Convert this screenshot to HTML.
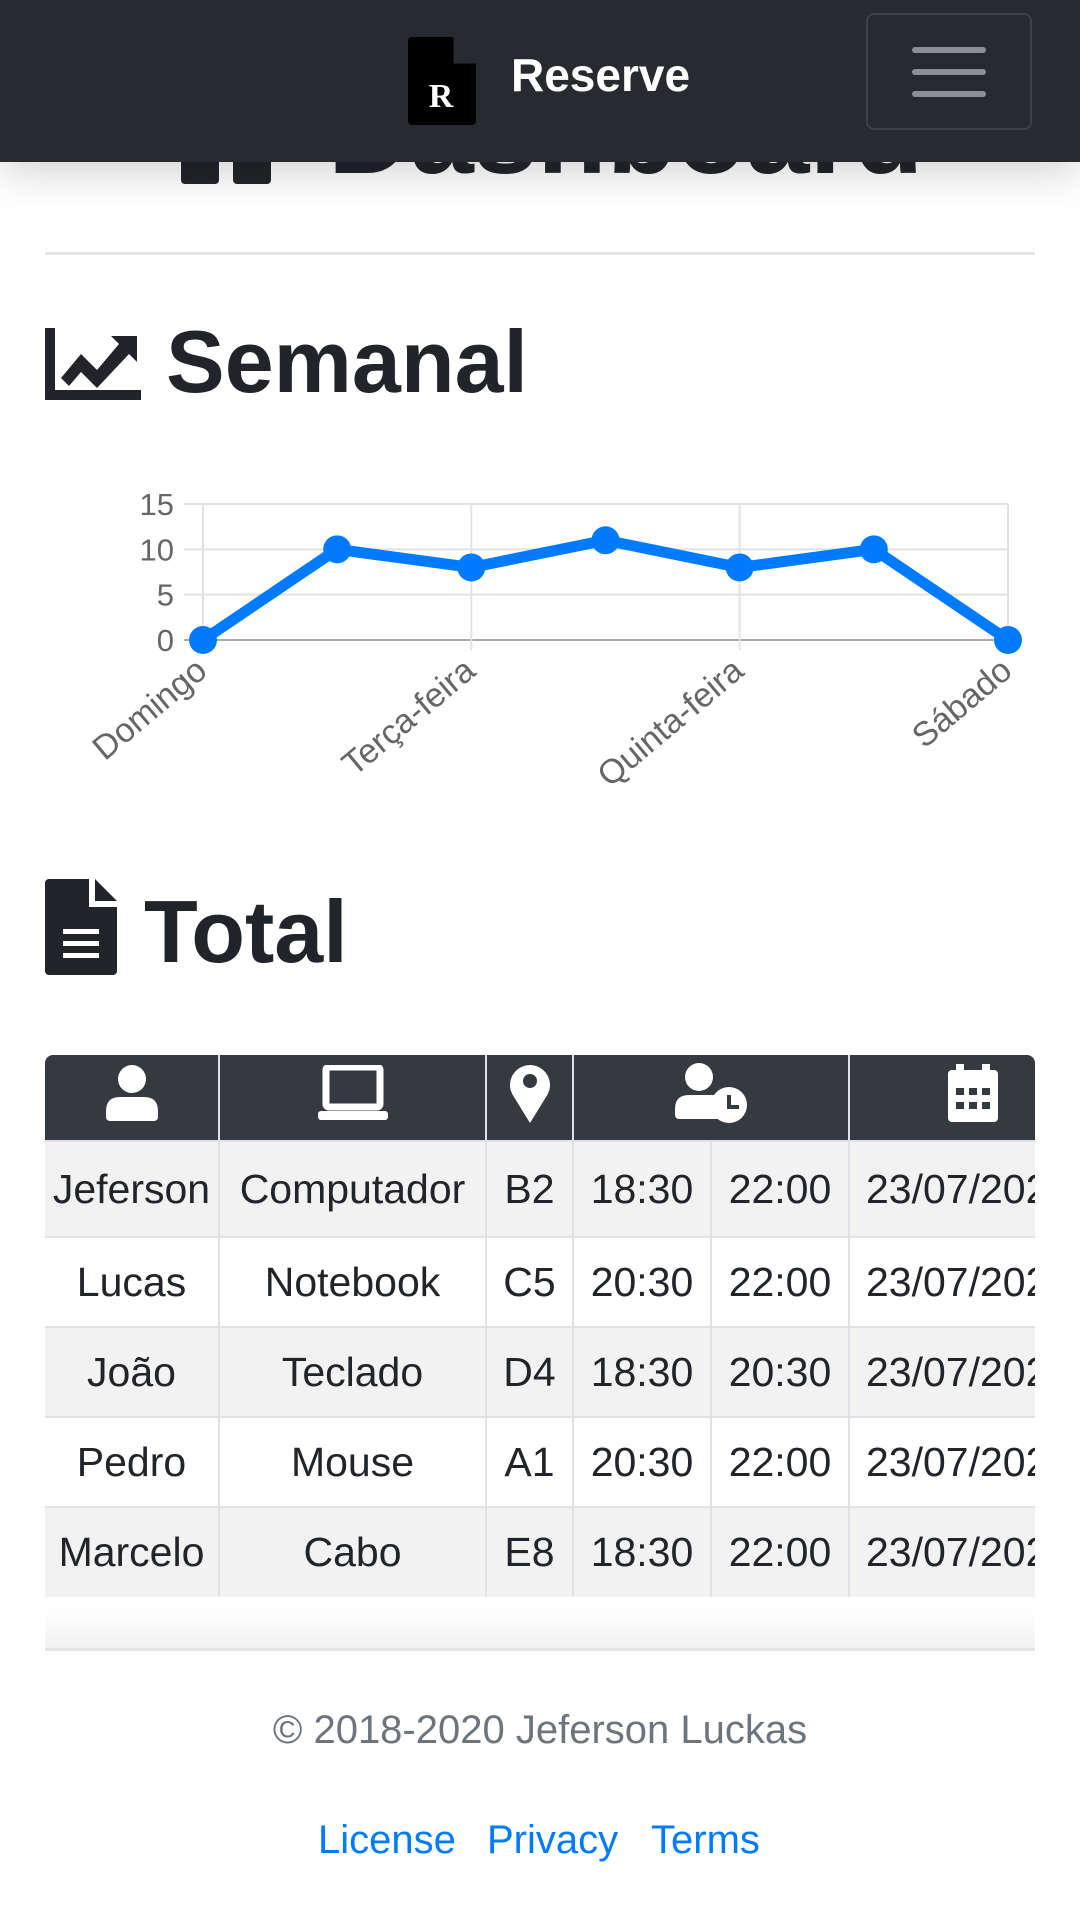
<!DOCTYPE html>
<html><head><meta charset="utf-8">
<style>
*{box-sizing:border-box;margin:0;padding:0}
body{width:1080px;height:1920px;background:#fff;position:relative;overflow:hidden;font-family:"Liberation Sans",sans-serif;color:#212529}
.abs{position:absolute}
#nav{left:0;top:0;width:1080px;height:162px;background:#272b30;z-index:5;box-shadow:0 10px 40px rgba(0,0,0,0.18)}
.h{font-size:92px;font-weight:normal;white-space:nowrap;line-height:1}
table{border-collapse:collapse;table-layout:fixed}
td,th{border:2px solid #dee2e6;text-align:center;font-size:41px;white-space:nowrap;overflow:hidden;font-weight:normal}
th{background:#343a40;border-color:#dee2e6;height:86px;border-top:none}
tr.o td{background:#f2f2f2}
td{height:90px}
</style></head><body>
<div id="nav" class="abs">
  <svg class="abs" style="left:408px;top:37px" width="68" height="88">
    <path d="M4 0 H44 L68 28 V84 a4 4 0 0 1 -4 4 H4 a4 4 0 0 1 -4 -4 V4 a4 4 0 0 1 4 -4Z" fill="#000"/>
    <path d="M44 0 V28 H68" fill="#272b30" stroke="#000" stroke-width="3"/>
    <text x="33" y="70" fill="#fff" font-family="Liberation Serif" font-weight="bold" font-size="34" text-anchor="middle">R</text>
  </svg>
  <div class="abs" style="left:511px;top:48px;font-size:46px;font-weight:bold;color:#fff">Reserve</div>
  <div class="abs" style="left:866px;top:13px;width:166px;height:117px;border:2px solid #3d4247;border-radius:8px">
    <div class="abs" style="left:44px;top:32px;width:74px;height:6px;background:#8c9094;border-radius:3px"></div>
    <div class="abs" style="left:44px;top:54px;width:74px;height:6px;background:#8c9094;border-radius:3px"></div>
    <div class="abs" style="left:44px;top:76px;width:74px;height:6px;background:#8c9094;border-radius:3px"></div>
  </div>
</div>
<div class="abs" style="left:181px;top:100px;width:92px;height:84px">
  <div class="abs" style="left:0;top:0;width:38px;height:84px;background:#212529;border-radius:4px"></div>
  <div class="abs" style="left:52px;top:0;width:38px;height:84px;background:#212529;border-radius:4px"></div>
</div>
<div class="abs h" style="left:328px;top:78px;font-size:114px;font-weight:bold">Dashboard</div>
<div class="abs" style="left:45px;top:252px;width:990px;height:3px;background:#e3e6e9"></div>

<svg class="abs" style="left:45px;top:328px" width="96" height="72">
  <path d="M0 0 H10 V62 H96 V72 H0Z" fill="#212529"/>
  <path d="M16 50 L36 26 L52 42 L74 16 L66 8 H92 V34 L84 26 L52 60 L36 44 L24 58Z" fill="#212529"/>
</svg>
<div class="abs h" style="left:166px;top:318px;font-weight:bold;font-size:88px">Semanal</div>

<svg id="chart" class="abs" style="left:0;top:480px" width="1080" height="330"></svg>

<svg class="abs" style="left:45px;top:879px" width="72" height="96">
  <path d="M4 0 H44 V28 H72 V92 a4 4 0 0 1 -4 4 H4 a4 4 0 0 1 -4 -4 V4 a4 4 0 0 1 4 -4Z" fill="#212529"/>
  <path d="M50 0 L72 22 H50Z" fill="#212529"/>
  <rect x="18" y="50" width="36" height="5" fill="#fff"/><rect x="18" y="62" width="36" height="5" fill="#fff"/><rect x="18" y="74" width="36" height="5" fill="#fff"/>
</svg>
<div class="abs h" style="left:144px;top:888px;font-weight:bold;font-size:88px">Total</div>

<div class="abs" style="left:45px;top:1055px;width:990px;height:595px;overflow:hidden;border-radius:8px 8px 0 0;box-shadow:inset 0 -50px 30px -30px rgba(0,0,0,0.06)">
<table style="width:1100px">
<colgroup><col style="width:174px"><col style="width:267px"><col style="width:87px"><col style="width:138px"><col style="width:138px"><col style="width:296px"></colgroup>
<tr>
<th style="border-left:none"><svg width="52" height="56" viewBox="0 0 52 56"><circle cx="26" cy="14" r="14" fill="#fff"/><path d="M4 56 a4 4 0 0 1 -4 -4 V46 q0 -14 14 -14 h24 q14 0 14 14 V52 a4 4 0 0 1 -4 4Z" fill="#fff"/></svg></th>
<th><svg width="70" height="56" viewBox="0 0 70 56"><rect x="8" y="2" width="54" height="40" rx="3" fill="none" stroke="#fff" stroke-width="7"/><rect x="0" y="46" width="70" height="9" rx="3" fill="#fff"/></svg></th>
<th><svg width="40" height="60" viewBox="0 0 40 60"><path d="M20 60 L4 34 A20 20 0 1 1 36 34Z" fill="#fff"/><circle cx="20" cy="18" r="7" fill="#343a40"/></svg></th>
<th colspan="2"><svg width="72" height="60" viewBox="0 0 72 60"><circle cx="24" cy="14" r="14" fill="#fff"/><path d="M4 56 a4 4 0 0 1 -4 -4 V46 q0 -14 14 -14 h22 q6 0 8 2 V56Z" fill="#fff"/><circle cx="54" cy="42" r="18" fill="#fff"/><path d="M54 32 V44 H64" stroke="#343a40" stroke-width="4" fill="none"/></svg></th>
<th style="text-align:left;padding-left:98px"><svg width="50" height="58" viewBox="0 0 50 58"><rect x="8" y="0" width="8" height="12" fill="#fff"/><rect x="34" y="0" width="8" height="12" fill="#fff"/><rect x="0" y="6" width="50" height="52" rx="4" fill="#fff"/><g fill="#343a40"><rect x="8" y="24" width="8" height="7"/><rect x="21" y="24" width="8" height="7"/><rect x="34" y="24" width="8" height="7"/><rect x="8" y="38" width="8" height="7"/><rect x="21" y="38" width="8" height="7"/><rect x="34" y="38" width="8" height="7"/></g></svg></th>
</tr>
<tr class="o"><td style="border-left:none;height:96px">Jeferson</td><td>Computador</td><td>B2</td><td>18:30</td><td>22:00</td><td style="text-align:left;padding-left:16px">23/07/2020</td></tr>
<tr><td style="border-left:none">Lucas</td><td>Notebook</td><td>C5</td><td>20:30</td><td>22:00</td><td style="text-align:left;padding-left:16px">23/07/2020</td></tr>
<tr class="o"><td style="border-left:none">João</td><td>Teclado</td><td>D4</td><td>18:30</td><td>20:30</td><td style="text-align:left;padding-left:16px">23/07/2020</td></tr>
<tr><td style="border-left:none">Pedro</td><td>Mouse</td><td>A1</td><td>20:30</td><td>22:00</td><td style="text-align:left;padding-left:16px">23/07/2020</td></tr>
<tr class="o"><td style="border-left:none;border-bottom:none">Marcelo</td><td style="border-bottom:none">Cabo</td><td style="border-bottom:none">E8</td><td style="border-bottom:none">18:30</td><td style="border-bottom:none">22:00</td><td style="text-align:left;padding-left:16px;border-bottom:none">23/07/2020</td></tr>
</table>
</div>
<div class="abs" style="left:45px;top:1648px;width:990px;height:3px;background:#e3e6e9"></div>
<div class="abs" style="left:0;top:1708px;width:1080px;text-align:center;font-size:40px;color:#6c757d">© 2018-2020 Jeferson Luckas</div>
<div class="abs" style="left:318px;top:1818px;font-size:40px;color:#007bff">License</div>
<div class="abs" style="left:487px;top:1818px;font-size:40px;color:#007bff">Privacy</div>
<div class="abs" style="left:651px;top:1818px;font-size:40px;color:#007bff">Terms</div>

<script>
const categories=["Domingo","Segunda-feira","Terça-feira","Quarta-feira","Quinta-feira","Sexta-feira","Sábado"];
const values=[0,10,8,11,8,10,0];
const yTicks=[0,5,10,15];
const shownLabels=[0,2,4,6];
const svg=document.getElementById('chart');
const NS='http://www.w3.org/2000/svg';
const x0=203,x1=1008,yTop=24,yZero=160,yMax=15;
const X=i=>x0+(x1-x0)*i/(categories.length-1);
const Y=v=>yZero-(yZero-yTop)*v/yMax;
function mk(t,a){const e=document.createElementNS(NS,t);for(const k in a)e.setAttribute(k,a[k]);svg.appendChild(e);return e;}
yTicks.forEach(t=>{
  const l=mk('line',{x1:184,x2:x1,y1:Y(t),y2:Y(t),stroke:t===0?'#aaa':'#e2e2e2','stroke-width':2});
  
  
  const tx=mk('text',{x:174,y:Y(t)+11,'text-anchor':'end','font-size':31,fill:'#666','font-family':'Liberation Sans'});
  tx.textContent=t;
  
  
});
shownLabels.forEach(i=>{
  const g=mk('line',{x1:X(i),x2:X(i),y1:yTop,y2:yZero+10,stroke:'#e2e2e2','stroke-width':2});
  
  
  const tx=mk('text',{x:X(i)+6,y:yZero+34,'text-anchor':'end','font-size':34,fill:'#666','font-family':'Liberation Sans',transform:`rotate(-40 ${X(i)+6} ${yZero+34})`});
  tx.textContent=categories[i];
  
  
});
const line=mk('polyline',{points:values.map((v,i)=>X(i)+','+Y(v)).join(' '),fill:'none',stroke:'#007bff','stroke-width':11,'stroke-linejoin':'round'});


values.forEach((v,i)=>{
  const c=mk('circle',{cx:X(i),cy:Y(v),r:14,fill:'#007bff'});
  
  
});
</script>
</body></html>
